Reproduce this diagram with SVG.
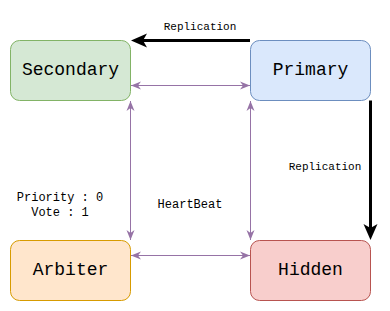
<svg xmlns="http://www.w3.org/2000/svg" width="390" height="311" viewBox="0 0 390 311">
<style>
.node text{font-family:"Liberation Mono",monospace;font-size:18px;text-anchor:middle;fill:#000}
.lbl{font-family:"Liberation Mono",monospace;text-anchor:middle;fill:#000}
.hb{stroke:#9673a6;stroke-width:1;fill:none}
.rep{stroke:#000;stroke-width:3;fill:none}
</style>
<defs>
<marker id="pa" viewBox="0 0 10 10" refX="10" refY="5" markerWidth="10" markerHeight="10" markerUnits="userSpaceOnUse" orient="auto-start-reverse">
<path d="M0,1 L10,5 L0,9 L3,5 Z" fill="#9673a6"/>
</marker>
<marker id="ba" viewBox="0 0 16 16" refX="4" refY="8" markerWidth="16" markerHeight="16" markerUnits="userSpaceOnUse" orient="auto">
<path d="M0,1 L16,8 L0,15 L4,8 Z" fill="#000"/>
</marker>
</defs>
<g id="connectors">
<path class="rep" d="M250,40.5 H143" marker-end="url(#ba)"/>
<path class="rep" d="M370.5,100.5 V228" marker-end="url(#ba)"/>
<path class="hb" d="M131,85.5 H250" marker-start="url(#pa)" marker-end="url(#pa)"/>
<path class="hb" d="M131,255.5 H250" marker-start="url(#pa)" marker-end="url(#pa)"/>
<path class="hb" d="M130.5,101 V240" marker-start="url(#pa)" marker-end="url(#pa)"/>
<path class="hb" d="M250.5,101 V240" marker-start="url(#pa)" marker-end="url(#pa)"/>
<text class="lbl" x="200" y="30" font-size="11">Replication</text>
<text class="lbl" x="325" y="170" font-size="11">Replication</text>
<text class="lbl" x="190" y="208" font-size="12">HeartBeat</text>
<text class="lbl" x="60" y="201" font-size="12">Priority : 0</text>
<text class="lbl" x="60" y="216" font-size="12">Vote : 1</text>
</g>
<g id="secondary" class="node">
<rect x="10.5" y="40.5" width="120" height="60" rx="9" fill="#d5e8d4" stroke="#82b366"/>
<text x="70.5" y="75">Secondary</text>
</g>
<g id="primary" class="node">
<rect x="250.5" y="40.5" width="120" height="60" rx="9" fill="#dae8fc" stroke="#6c8ebf"/>
<text x="310.5" y="75">Primary</text>
</g>
<g id="arbiter" class="node">
<rect x="10.5" y="240.5" width="120" height="60" rx="9" fill="#ffe6cc" stroke="#d79b00"/>
<text x="70.5" y="275">Arbiter</text>
</g>
<g id="hidden" class="node">
<rect x="250.5" y="240.5" width="120" height="60" rx="9" fill="#f8cecc" stroke="#b85450"/>
<text x="310.5" y="275">Hidden</text>
</g>
</svg>
